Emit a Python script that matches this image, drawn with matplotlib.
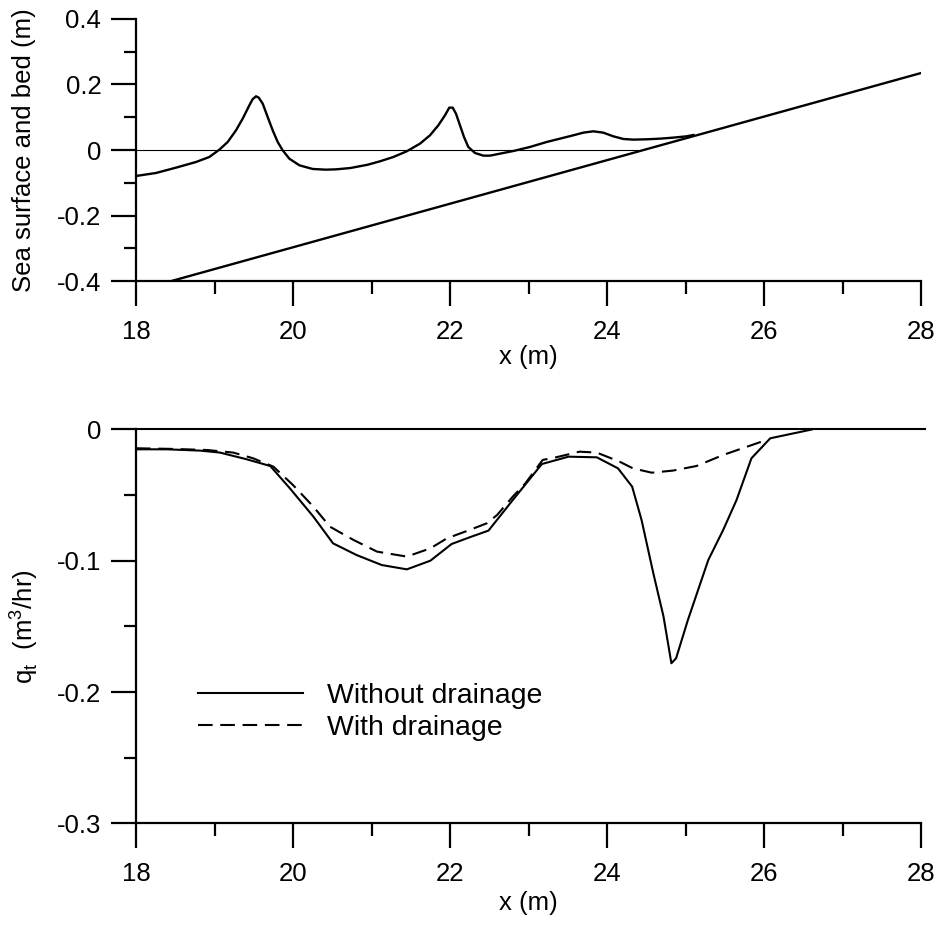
import numpy as np
import matplotlib
matplotlib.use("Agg")
import matplotlib.pyplot as plt
from matplotlib.lines import Line2D
from matplotlib.ticker import MultipleLocator

plt.rcParams['font.family'] = ['Liberation Sans', 'DejaVu Sans']
plt.rcParams['mathtext.fontset'] = 'custom'
plt.rcParams['mathtext.rm'] = 'Liberation Sans'

# top panel: water surface and bed profile
surf_x = [18.0, 18.255, 18.51, 18.764, 18.934, 19.062, 19.168, 19.274, 19.359, 19.444,
          19.485, 19.529, 19.563, 19.614, 19.677, 19.741, 19.805, 19.868, 19.953, 20.081,
          20.251, 20.42, 20.548, 20.73, 20.95, 21.108, 21.278, 21.448, 21.618, 21.745,
          21.851, 21.936, 21.991, 22.034, 22.076, 22.127, 22.178, 22.233, 22.318, 22.424,
          22.509, 22.637, 22.807, 23.019, 23.231, 23.401, 23.571, 23.698, 23.826, 23.953,
          24.080, 24.208, 24.335, 24.505, 24.675, 24.845, 25.015, 25.10]
surf_z = [-0.0793, -0.0701, -0.0538, -0.0366, -0.0213, 0.0011, 0.0245, 0.0602, 0.0958, 0.1365,
          0.155, 0.164, 0.1599, 0.1415, 0.1008, 0.0602, 0.0245, -0.0009, -0.0264, -0.0467,
          -0.0579, -0.0600, -0.059, -0.055, -0.045, -0.0345, -0.0213, -0.004, 0.0195, 0.0449,
          0.0754, 0.106, 0.1294, 0.1294, 0.111, 0.0754, 0.0398, 0.0093, -0.0091, -0.0172,
          -0.0172, -0.0111, -0.003, 0.0093, 0.0245, 0.0347, 0.0449, 0.053, 0.0571, 0.053,
          0.0418, 0.0337, 0.0317, 0.0327, 0.0347, 0.0378, 0.0418, 0.0459]
bed_x = [18.45, 28.0]
bed_z = [-0.40, 0.235]
swl_x = [18.0, 24.4]
swl_z = [0.0, 0.0]

# bottom panel: transport rate
q_no_x = [18.0, 18.39, 18.82, 19.07, 19.41, 19.71, 19.96, 20.26, 20.51, 20.81,
          21.13, 21.45, 21.75, 22.02, 22.25, 22.49, 22.80, 22.92, 23.17, 23.51,
          23.87, 24.14, 24.32, 24.44, 24.59, 24.72, 24.82, 24.88, 25.03, 25.29,
          25.48, 25.65, 25.84, 26.08, 26.61]
q_no = [-0.0151, -0.0151, -0.0161, -0.0176, -0.0227, -0.0278, -0.0448, -0.0664, -0.0867, -0.0956,
        -0.1032, -0.1065, -0.0999, -0.0872, -0.0821, -0.0770, -0.0537, -0.0448, -0.0263, -0.0207,
        -0.0212, -0.0296, -0.0435, -0.0689, -0.1095, -0.1425, -0.1780, -0.1742, -0.1451, -0.0994,
        -0.0765, -0.0537, -0.0219, -0.0067, 0.0]
q_dr_x = [18.0, 18.47, 18.90, 19.24, 19.49, 19.75, 20.0, 20.26, 20.47, 20.77,
          21.07, 21.45, 21.75, 21.96, 22.25, 22.47, 22.60, 22.80, 22.96, 23.18,
          23.35, 23.65, 23.87, 24.16, 24.33, 24.57, 24.84, 25.14, 25.48, 25.91, 26.05]
q_dr = [-0.0143, -0.0148, -0.0156, -0.0176, -0.0219, -0.0283, -0.0423, -0.0588, -0.0740, -0.0841,
        -0.0930, -0.0968, -0.0905, -0.0829, -0.0765, -0.0714, -0.0651, -0.0511, -0.0410, -0.0232,
        -0.0212, -0.0169, -0.0176, -0.0245, -0.0296, -0.0329, -0.0313, -0.0278, -0.0194, -0.0105, -0.0075]

fs = 18.5
fig = plt.figure(figsize=(9.4, 9.26), dpi=100)
ax1 = fig.add_axes([0.1447, 0.6965, 0.8351, 0.2830])
ax2 = fig.add_axes([0.1447, 0.1107, 0.8351, 0.4255])

for ax in (ax1, ax2):
    ax.spines['top'].set_visible(False)
    ax.spines['right'].set_visible(False)
    for s in ('left', 'bottom'):
        ax.spines[s].set_linewidth(1.6)
    ax.set_xlim(18, 28)
    ax.xaxis.set_major_locator(MultipleLocator(2))
    ax.xaxis.set_minor_locator(MultipleLocator(1))
    ax.tick_params(which='major', direction='out', length=18, width=1.6,
                   labelsize=fs)
    ax.tick_params(which='minor', direction='out', length=9, width=1.6)
    ax.tick_params(axis='x', which='major', pad=10)
    ax.tick_params(axis='y', which='major', pad=7)

def fmt(v, pos):
    return '0' if abs(v) < 1e-9 else ('%g' % v)

# top
ax1.plot(swl_x, swl_z, color='black', lw=0.8)
ax1.plot(bed_x, bed_z, color='black', lw=1.7)
ax1.plot(surf_x, surf_z, color='black', lw=1.7, solid_joinstyle='round')
ax1.set_ylim(-0.4, 0.4)
ax1.yaxis.set_major_locator(MultipleLocator(0.2))
ax1.yaxis.set_minor_locator(MultipleLocator(0.1))
ax1.yaxis.set_major_formatter(plt.FuncFormatter(fmt))
ax1.set_ylabel('Sea surface and bed (m)', fontsize=fs)
ax1.yaxis.set_label_coords(-0.128, 0.5)
ax1.set_xlabel('x (m)', fontsize=fs)
ax1.xaxis.set_label_coords(0.5, -0.245)

# bottom
ax2.axhline(0, color='black', lw=1.5, xmin=0, xmax=1.005, clip_on=False)
ax2.plot(q_no_x, q_no, color='black', lw=1.5)
ax2.plot(q_dr_x, q_dr, color='black', lw=1.5, dashes=(7, 3.7))
ax2.set_ylim(-0.3, 0)
ax2.yaxis.set_major_locator(MultipleLocator(0.1))
ax2.yaxis.set_minor_locator(MultipleLocator(0.05))
ax2.yaxis.set_major_formatter(plt.FuncFormatter(fmt))
ax2.set_ylabel(r'q$_\mathregular{t}$  (m$^\mathregular{3}$/hr)', fontsize=fs)
ax2.yaxis.set_label_coords(-0.122, 0.5)
ax2.set_xlabel('x (m)', fontsize=fs)
ax2.xaxis.set_label_coords(0.5, -0.172)

handles = [Line2D([], [], color='black', lw=1.5),
           Line2D([], [], color='black', lw=1.5, dashes=(7, 3.7))]
ax2.legend(handles, ['Without drainage', 'With drainage'], loc='upper left',
           bbox_to_anchor=(0.079, 0.356), frameon=False, fontsize=20.5,
           handlelength=3.7, handletextpad=0.83, labelspacing=0.2,
           borderpad=0, borderaxespad=0)

fig.savefig('out.png', dpi=100)
